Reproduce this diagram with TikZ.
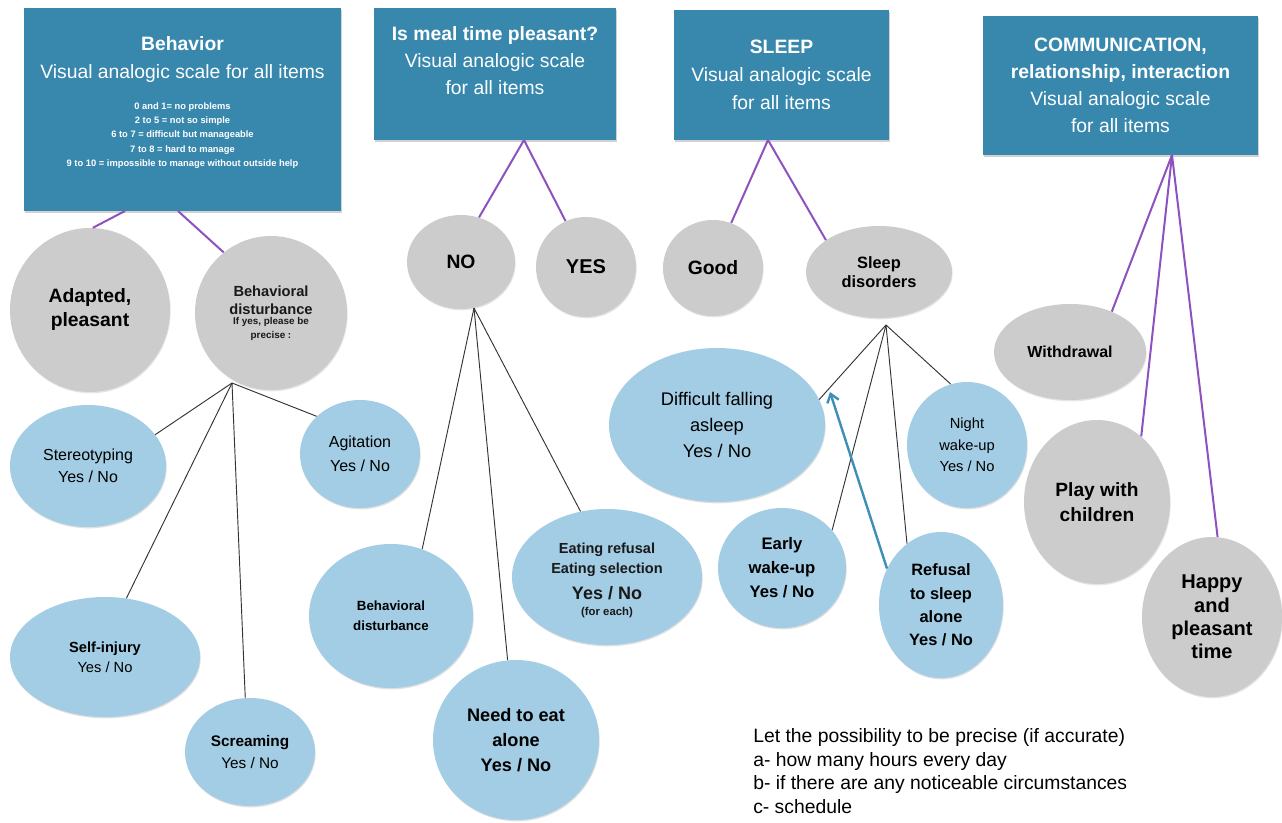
\documentclass[tikz,border=0pt]{standalone}
\usepackage{fontspec}
\setmainfont{Liberation Sans}
\usetikzlibrary{shapes.geometric,shadows,arrows.meta}
\definecolor{boxc}{RGB}{56,136,173}
\definecolor{grayc}{RGB}{204,204,204}
\definecolor{bluec}{RGB}{163,205,228}
\definecolor{purp}{RGB}{142,82,190}
\definecolor{arrc}{RGB}{62,143,183}
\begin{document}
\begin{tikzpicture}[x=0.75pt,y=-0.75pt,
  hdr/.style={rectangle, fill=boxc, inner sep=0pt, drop shadow={shadow xshift=1pt, shadow yshift=-1.5pt, opacity=0.35}},
  bsz/.style 2 args={minimum width={#1*0.75pt}, minimum height={#2*0.75pt}},
  sz/.style 2 args={minimum width={#1*1.5pt}, minimum height={#2*1.5pt}},
  gr/.style={ellipse, fill=grayc, inner sep=0pt, align=center, drop shadow={shadow xshift=0.5pt, shadow yshift=-1pt, opacity=0.2}},
  bl/.style={ellipse, fill=bluec, inner sep=0pt, align=center, drop shadow={shadow xshift=0.5pt, shadow yshift=-1pt, opacity=0.25}},
  wt/.style={text=white, align=center, inner sep=0pt},
  tx/.style={align=center, inner sep=0pt, text=black!90},
  fs/.style 2 args={font=\fontsize{#1}{#2}\selectfont},
  fb/.style 2 args={font=\fontsize{#1}{#2}\selectfont\bfseries},
  pl/.style={draw=purp, line width=1.5pt},
  bk/.style={draw=black!80, line width=0.7pt},
  arr/.style={draw=arrc, line width=1.8pt, -{Straight Barb[length=6pt,width=9pt]}}
]
\fill[white] (0,0) rectangle (1282,823);
\useasboundingbox (0,0) rectangle (1282,823);

% header boxes
\node[hdr,bsz={317}{203}] (beh) at (182.5,109.5) {};
\node[wt,fs={14.5}{21}] (behT) at (182.5,60) {\textbf{Behavior}\\Visual analogic scale for all items};
\node[wt,fb={7}{10.7}] (behS) at (182.5,135.5) {0 and 1= no problems\\2 to 5 = not so simple\\6 to 7 = difficult but manageable\\7 to 8 = hard to manage\\9 to 10 = impossible to manage without outside help};

\node[hdr,bsz={242}{132}] (meal) at (495,74) {};
\node[wt,fs={14.5}{20.25}] (mealT) at (495,61) {\textbf{Is meal time pleasant?}\\Visual analogic scale\\for all items};

\node[hdr,bsz={215}{130}] (sleep) at (781.5,75) {};
\node[wt,fs={14.5}{21}] (sleepT) at (781.5,75) {\textbf{SLEEP}\\Visual analogic scale\\for all items};

\node[hdr,bsz={275}{139}] (comm) at (1120.5,85.5) {};
\node[wt,fs={14.5}{20.25}] (commT) at (1120.5,85.5) {\textbf{COMMUNICATION,}\\\textbf{relationship, interaction}\\Visual analogic scale\\for all items};

% gray ellipses
\node[gr,sz={80}{82},fb={14.5}{18}] (adapt) at (90,310) {Adapted,\\pleasant};
\node[gr,sz={76}{77}] (bdis) at (271,313) {};
\node[tx,fb={11}{13.5}] (bdisT) at (271,300) {Behavioral\\disturbance};
\node[tx,fb={7.4}{10}] (bdisS) at (271,329) {If yes, please be\\precise :};
\node[gr,sz={54}{47},fb={14.5}{18}] (no) at (461,262) {NO};
\node[gr,sz={50}{50},fb={15}{18}] (yes) at (586,267) {YES};
\node[gr,sz={50}{48},fb={14.5}{18}] (good) at (713,268) {Good};
\node[gr,sz={73}{46},fb={12.3}{14.3}] (sdis) at (879,272) {Sleep\\disorders};
\node[gr,sz={76}{48},fb={12}{14}] (withd) at (1070,352) {Withdrawal};
\node[gr,sz={73}{82},fb={14.4}{18.75}] (play) at (1097,502) {Play with\\children};
\node[gr,sz={70}{80},fb={15}{17.6}] (happy) at (1212,617) {Happy\\and\\pleasant\\time};

% blue ellipses
\node[bl,sz={78}{61},fs={12}{16.5}] (stereo) at (88,466) {Stereotyping\\Yes / No};
\node[bl,sz={60}{54},fs={12}{18}] (agit) at (360,454) {Agitation\\Yes / No};
\node[bl,sz={95}{60},fs={11}{15}] (selfi) at (105,657) {\textbf{Self-injury}\\Yes / No};
\node[bl,sz={65}{54},fs={11.5}{16.5}] (scream) at (250,752) {\textbf{Screaming}\\Yes / No};
\node[bl,sz={82}{72},fb={10}{15}] (bdis2) at (391,616) {Behavioral\\disturbance};
\node[bl,sz={83}{80},fb={13.6}{18.75}] (need) at (516,740) {Need to eat\\alone\\Yes / No};
\node[bl,sz={95}{68}] (eat) at (607,577) {};
\node[tx,fb={10.9}{15}] (eatA) at (607,560) {Eating refusal\\Eating selection};
\node[tx,fb={13.5}{16}] (eatB) at (607,593) {Yes / No};
\node[tx,fb={8.5}{10}] (eatC) at (607,613) {(for each)};
\node[bl,sz={108}{77},fs={13.7}{19.5}] (diff) at (717,425) {Difficult falling\\asleep\\Yes / No};
\node[bl,sz={60}{63},fs={11}{16}] (night) at (967,445) {Night\\wake-up\\Yes / No};
\node[bl,sz={64}{60},fb={12.5}{18}] (early) at (782,568) {Early\\wake-up\\Yes / No};
\node[bl,sz={62}{73},fb={12.3}{17.5}] (refus) at (941,605) {Refusal\\to sleep\\alone\\Yes / No};

% note
\node[anchor=north west, align=left, inner sep=0pt, fs={14.5}{17.8}] (note) at (753,728) {Let the possibility to be precise (if accurate)\\a- how many hours every day\\b- if there are any noticeable circumstances\\c- schedule};

% purple connectors
\coordinate (ba) at (125,211);
\coordinate (bb) at (178,211);
\coordinate (ma) at (524,140);
\coordinate (sa) at (768,140);
\coordinate (ca) at (1172,155);
\draw[pl] (ba) -- (adapt.88);
\draw[pl] (bb) -- (bdis.128);
\draw[pl] (ma) -- (no.68);
\draw[pl] (ma) -- (yes.114);
\draw[pl] (sa) -- (good.68);
\draw[pl] (sa) -- (sdis.149);
\draw[pl] (ca) -- (withd.44);
\draw[pl] (ca) -- (play.56);
\draw[pl] (ca) -- (happy.86);

% black connectors
\coordinate (h1) at (232,383);
\coordinate (h2) at (474,308);
\coordinate (h3) at (886,325);
\draw[bk] (h1) -- (stereo.25);
\draw[bk] (h1) -- (selfi.70);
\draw[bk] (h1) -- (scream.95);
\draw[bk] (h1) -- (agit.139);
\draw[bk] (h2) -- (bdis2.65);
\draw[bk] (h2) -- (need.96);
\draw[bk] (h2) -- (eat.112);
\draw[bk] (h3) -- (diff.14);
\draw[bk] (h3) -- (early.37);
\draw[bk] (h3) -- (refus.119);
\draw[bk] (h3) -- (night.105);

% blue arrow
\coordinate (atip) at (830,392);
\draw[arr] (refus.146) -- (atip);
\end{tikzpicture}
\end{document}
